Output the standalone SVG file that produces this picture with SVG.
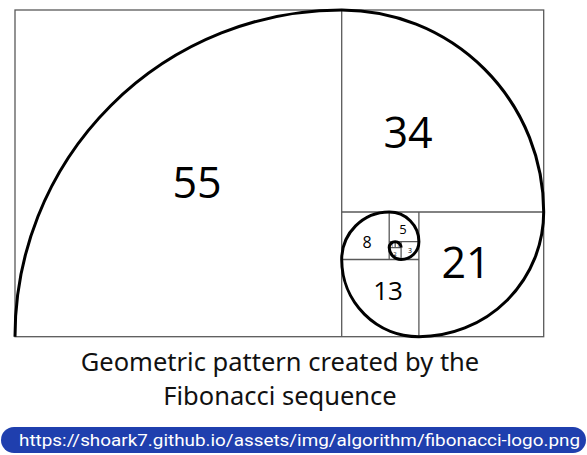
<svg xmlns="http://www.w3.org/2000/svg" width="587" height="455" viewBox="0 0 587 455">
<style>
.grid{fill:none;stroke:#595959;stroke-width:1.3}
.spiral{fill:none;stroke:#000;stroke-width:3;stroke-linejoin:round}
.num{font-family:"Open Sans","Liberation Sans",sans-serif;fill:#000;text-anchor:middle}
.cap{font-family:"Noto Sans","Open Sans",sans-serif;font-size:25.5px;fill:#111;text-anchor:middle}
.url{font-family:Roboto,"Noto Sans",sans-serif;font-size:17px;fill:#fff}
</style>
<rect width="587" height="455" fill="#fff"/>
<g id="grid">
<rect class="grid" x="15" y="10" width="528.7" height="326.7"/>
<path class="grid" d="M341.7,10V336.7 M341.7,212H543.7 M418.9,212V336.7 M341.7,259.5H418.9 M389.2,212V259.5 M389.2,241.7H418.9 M401.1,241.7V259.5 M389.2,247.6H401.1 M395.2,241.7V247.6"/>
</g>
<g id="spiral">
<path class="spiral" d="M15,336.7 A326.7,326.7 0 0 1 341.7,10 A201.96,201.96 0 0 1 543.7,212 A124.74,124.74 0 0 1 418.9,336.7 A77.22,77.22 0 0 1 341.7,259.5 A47.52,47.52 0 0 1 389.2,212 A29.7,29.7 0 0 1 418.9,241.7 A17.82,17.82 0 0 1 401.1,259.5 A11.88,11.88 0 0 1 389.2,247.6 A5.94,5.94 0 0 1 395.2,241.7 A5.94,5.94 0 0 1 401.1,247.6"/>
</g>
<g id="n55"><text class="num" x="197" y="198" font-size="43">55</text></g>
<g id="n34"><text class="num" x="408" y="148" font-size="43">34</text></g>
<g id="n21"><text class="num" x="466" y="278" font-size="43">21</text></g>
<g id="n13"><text class="num" x="388" y="300" font-size="26">13</text></g>
<g id="n8"><text class="num" x="367" y="248" font-size="16">8</text></g>
<g id="n5"><text class="num" x="403" y="234" font-size="13">5</text></g>
<g id="n3"><text class="num" x="410" y="253" font-size="7">3</text></g>
<g id="n2"><text class="num" x="395" y="256" font-size="6">2</text></g>
<g id="n1a"><text class="num" x="392.2" y="246.5" font-size="5">1</text></g>
<g id="n1b"><text class="num" x="398.2" y="246.5" font-size="5">1</text></g>
<g id="caption">
<text class="cap" x="280" y="371">Geometric pattern created by the</text>
<text class="cap" x="280" y="405">Fibonacci sequence</text>
</g>
<g id="urlbar">
<rect x="1" y="427" width="585" height="26" rx="13" fill="#1f3fae"/>
<text class="url" x="19" y="446" textLength="561" lengthAdjust="spacingAndGlyphs">https://shoark7.github.io/assets/img/algorithm/fibonacci-logo.png</text>
</g>
</svg>
